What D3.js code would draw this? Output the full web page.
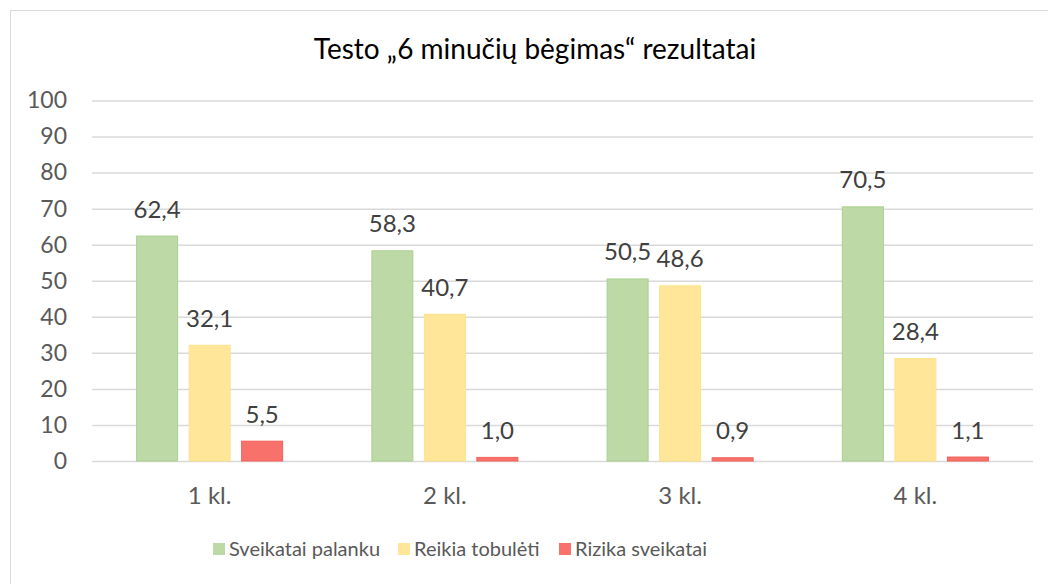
<!DOCTYPE html>
<html>
<head>
<meta charset="utf-8">
<script src="https://cdn.jsdelivr.net/npm/d3@7"></script>
<style>
  html, body { margin: 0; padding: 0; background: #fff; }
  svg { display: block; }
  text { font-family: Lato, "Open Sans", sans-serif; }
</style>
</head>
<body>
<svg id="chart" width="1048" height="584"></svg>
<script>
const categories = ["1 kl.", "2 kl.", "3 kl.", "4 kl."];
const seriesNames = ["Sveikatai palanku", "Reikia tobulėti", "Rizika sveikatai"];
const sveikataiPalanku = [62.4, 58.3, 50.5, 70.5];
const reikiaTobuleti = [32.1, 40.7, 48.6, 28.4];
const rizikaSveikatai = [5.5, 1.0, 0.9, 1.1];
const yTicks = [0, 10, 20, 30, 40, 50, 60, 70, 80, 90, 100];
const title = "Testo „6 minučių bėgimas“ rezultatai";

const seriesValues = [sveikataiPalanku, reikiaTobuleti, rizikaSveikatai];
const fills = ["#BDD9A6", "#FFE699", "#F8716A"];
const strokes = ["#A9D08E", "#FFE28A", "#F0625A"];

const svg = d3.select("#chart");

svg.append("rect")
  .attr("x", 10.5).attr("y", 10.5)
  .attr("width", 1200).attr("height", 800)
  .attr("fill", "none").attr("stroke", "#D9D9D9").attr("stroke-width", 1);

const plot = { left: 92, right: 1033, top: 100.5, bottom: 461 };

const x0 = d3.scaleBand().domain(categories)
  .range([plot.left, plot.right]).paddingInner(0.375).paddingOuter(0.1875);
const x1 = d3.scaleBand().domain(seriesNames)
  .range([0, x0.bandwidth()]).paddingInner(0.2).paddingOuter(0);
const y = d3.scaleLinear().domain([0, 100]).range([plot.bottom, plot.top]);

const yAxis = d3.axisLeft(y).tickValues(yTicks)
  .tickSize(-(plot.right - plot.left)).tickPadding(25).tickFormat(d3.format("d"));
const gy = svg.append("g").attr("transform", `translate(${plot.left},0)`).call(yAxis);
gy.select(".domain").remove();
gy.selectAll(".tick line").attr("stroke", "#D9D9D9").attr("stroke-width", 1.5);
gy.selectAll(".tick text").attr("fill", "#595959").attr("font-size", 23);

const xAxis = d3.axisBottom(x0).tickSize(0).tickPadding(26);
const gx = svg.append("g").attr("transform", `translate(0,${plot.bottom})`).call(xAxis);
gx.select(".domain").remove();
gx.selectAll(".tick text").attr("fill", "#595959").attr("font-size", 24);

const groups = svg.append("g").selectAll("g")
  .data(categories).join("g")
  .attr("transform", d => `translate(${x0(d)},0)`);

groups.selectAll("rect")
  .data((c, i) => seriesNames.map((s, j) => ({ s, j, v: seriesValues[j][i] })))
  .join("rect")
  .attr("x", d => x1(d.s) + 0.5)
  .attr("y", d => y(d.v))
  .attr("width", x1.bandwidth() - 1)
  .attr("height", d => y(0) - y(d.v))
  .attr("fill", d => fills[d.j])
  .attr("stroke", d => strokes[d.j])
  .attr("stroke-width", 1);

const fmt = v => d3.format(".1f")(v).replace(".", ",");
groups.selectAll("text.val")
  .data((c, i) => seriesNames.map((s, j) => ({ s, j, v: seriesValues[j][i] })))
  .join("text").attr("class", "val")
  .attr("x", d => x1(d.s) + x1.bandwidth() / 2)
  .attr("y", d => y(d.v) - 18.5)
  .attr("text-anchor", "middle")
  .attr("fill", "#404040").attr("font-size", 24)
  .text(d => fmt(d.v));

svg.append("text")
  .attr("x", 535).attr("y", 59)
  .attr("text-anchor", "middle")
  .attr("fill", "#000").attr("font-size", 28)
  .text(title);

const legendX = [213, 398, 559];
const lg = svg.append("g").selectAll("g").data(seriesNames).join("g")
  .attr("transform", (d, i) => `translate(${legendX[i]},543)`);
lg.append("rect").attr("width", 12).attr("height", 12)
  .attr("fill", (d, i) => fills[i]);
lg.append("text").attr("x", 16).attr("y", 6).attr("dy", "0.35em")
  .attr("fill", "#595959").attr("font-size", 20).text(d => d);
</script>
</body>
</html>
